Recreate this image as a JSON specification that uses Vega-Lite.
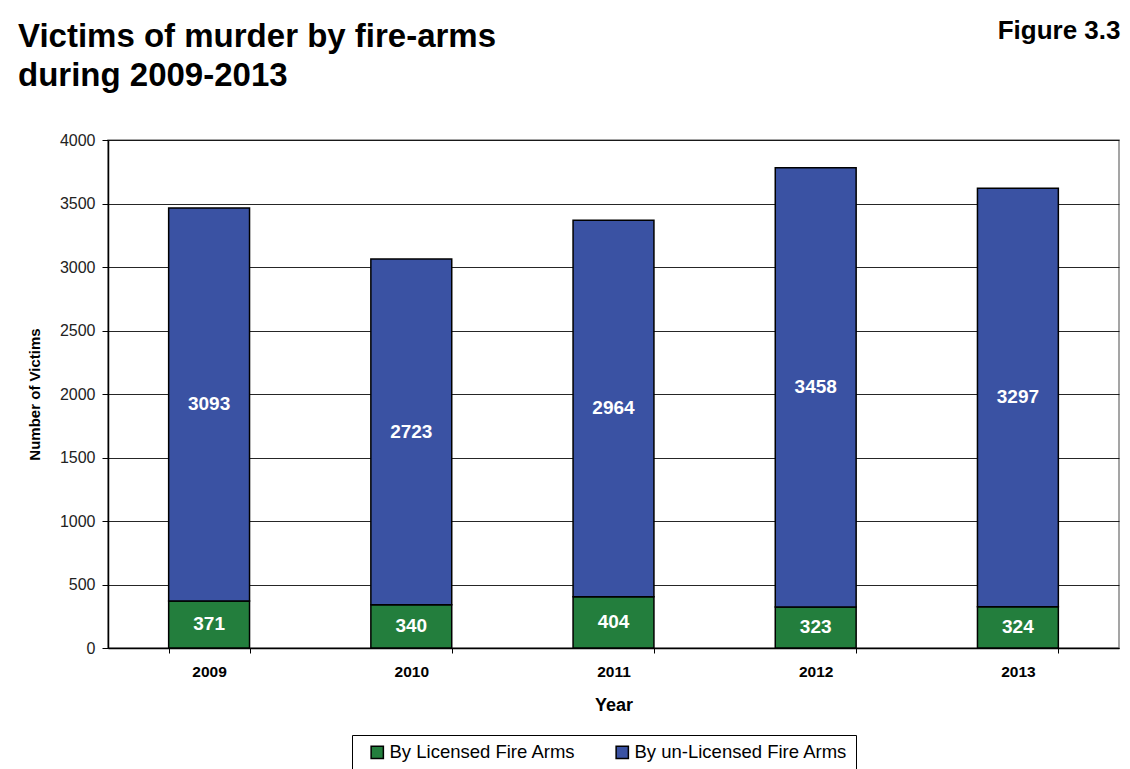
{
  "$schema": "https://vega.github.io/schema/vega-lite/v6.json",
  "autosize": {"type": "none"},
  "width": 1011,
  "height": 508,
  "padding": {"left": 108, "top": 140, "right": 11, "bottom": 121},
  "background": "white",
  "config": {
    "font": "Liberation Sans",
    "view": {"stroke": "#888888", "strokeWidth": 1.5}
  },
  "title": {
    "text": ["Victims of murder by fire-arms", "during 2009-2013"],
    "anchor": "start",
    "frame": "group",
    "dx": -90,
    "dy": 76,
    "fontSize": 33,
    "fontWeight": "bold",
    "lineHeight": 39,
    "color": "#000000",
    "offset": 0
  },
  "data": {
    "values": [
      {"year": "2009", "type": "By Licensed Fire Arms", "ord": 1, "value": 371},
      {"year": "2010", "type": "By Licensed Fire Arms", "ord": 1, "value": 340},
      {"year": "2011", "type": "By Licensed Fire Arms", "ord": 1, "value": 404},
      {"year": "2012", "type": "By Licensed Fire Arms", "ord": 1, "value": 323},
      {"year": "2013", "type": "By Licensed Fire Arms", "ord": 1, "value": 324},
      {"year": "2009", "type": "By un-Licensed Fire Arms", "ord": 2, "value": 3093},
      {"year": "2010", "type": "By un-Licensed Fire Arms", "ord": 2, "value": 2723},
      {"year": "2011", "type": "By un-Licensed Fire Arms", "ord": 2, "value": 2964},
      {"year": "2012", "type": "By un-Licensed Fire Arms", "ord": 2, "value": 3458},
      {"year": "2013", "type": "By un-Licensed Fire Arms", "ord": 2, "value": 3297}
    ]
  },
  "resolve": {"axis": {"x": "independent"}},
  "layer": [
    {
      "mark": {"type": "bar", "stroke": "#000000", "strokeWidth": 1.5},
      "encoding": {
        "x": {
          "field": "year",
          "type": "nominal",
          "scale": {"paddingInner": 0.6, "paddingOuter": 0.3},
          "axis": {
            "title": "Year",
            "titleFontSize": 18,
            "titleFontWeight": "bold",
            "titleColor": "#000000",
            "titlePadding": 17,
            "labelAngle": 0,
            "labelFontSize": 15.5,
            "labelFontWeight": "bold",
            "labelColor": "#000000",
            "labelPadding": 11,
            "tickBand": "extent",
            "tickColor": "#000000",
            "tickSize": 5,
            "domainColor": "#000000",
            "domainWidth": 1.5,
            "grid": false
          }
        },
        "y": {
          "field": "value",
          "type": "quantitative",
          "stack": "zero",
          "scale": {"domain": [0, 4000]},
          "axis": {
            "title": "Number of Victims",
            "titleFontSize": 15,
            "titleFontWeight": "bold",
            "titleColor": "#000000",
            "titlePadding": 17,
            "values": [0, 500, 1000, 1500, 2000, 2500, 3000, 3500, 4000],
            "format": "d",
            "labelFontSize": 16,
            "labelColor": "#222222",
            "labelPadding": 7,
            "tickColor": "#000000",
            "tickSize": 6,
            "domainColor": "#000000",
            "domainWidth": 1.5,
            "gridColor": "#000000",
            "gridWidth": 1,
            "gridOpacity": 0.85
          }
        },
        "color": {
          "field": "type",
          "type": "nominal",
          "scale": {
            "domain": ["By Licensed Fire Arms", "By un-Licensed Fire Arms"],
            "range": ["#237e3d", "#3a52a3"]
          },
          "legend": {
            "title": null,
            "orient": "none",
            "direction": "horizontal",
            "legendX": 244,
            "legendY": 595,
            "labelFontSize": 18.5,
            "labelLimit": 0,
            "labelColor": "#000000",
            "symbolType": "square",
            "symbolSize": 150,
            "symbolStrokeColor": "#000000",
            "symbolStrokeWidth": 1.5,
            "symbolOpacity": 1,
            "symbolOffset": 8,
            "strokeColor": "#000000",
            "padding": 8,
            "columnPadding": 29,
            "labelOffset": 3
          }
        },
        "order": {"field": "ord", "type": "quantitative"}
      }
    },
    {
      "mark": {"type": "text", "color": "#ffffff", "fontSize": 19, "fontWeight": "bold", "baseline": "middle"},
      "encoding": {
        "x": {
          "field": "year",
          "type": "nominal",
          "axis": {
            "orient": "top",
            "title": "Figure 3.3",
            "titleFont": "Liberation Sans",
            "titleFontSize": 26,
            "titleFontWeight": "bold",
            "titleColor": "#000000",
            "titleAlign": "right",
            "titleAnchor": "end",
            "titleBaseline": "middle",
            "titleX": 1012,
            "titleY": -110,
            "labels": false,
            "ticks": false,
            "domain": false,
            "grid": false
          }
        },
        "y": {"field": "value", "type": "quantitative", "stack": "zero", "bandPosition": 0.5},
        "text": {"field": "value", "type": "quantitative"},
        "order": {"field": "ord", "type": "quantitative"}
      }
    }
  ]
}
